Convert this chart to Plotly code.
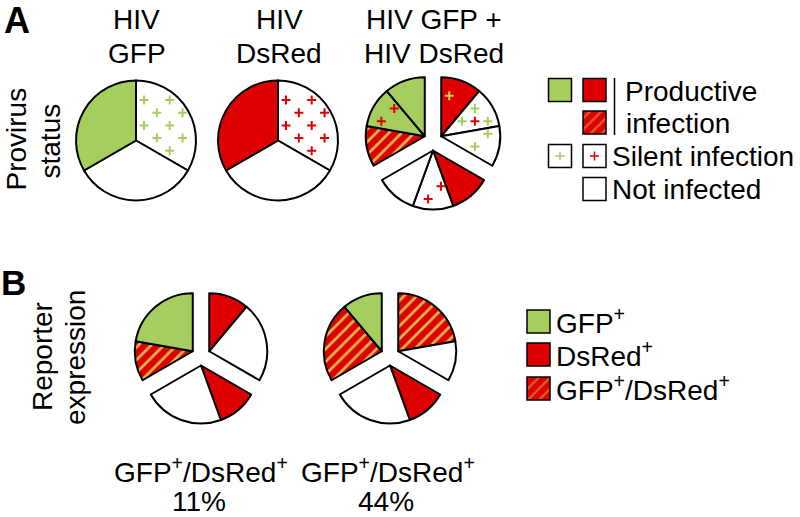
import math
import plotly.graph_objects as go

W, H = 800, 517
FONT = "Liberation Sans, Arial, sans-serif"
GREEN = "#a6ce5e"
RED = "#de0000"
STRIPE = "#e2b850"
PLUS_ON_RED = "#c8cf58"

# ---------------- data ----------------
# Each pie is split in three thirds (starting at 0°, 120°, 240° clockwise from 12 o'clock).
# Values are in ninths of the whole pie; kinds give the slice category.
a_titles = [["HIV", "GFP"], ["HIV", "DsRed"], ["HIV GFP +", "HIV DsRed"]]

a1_values = [[3], [3], [3]]
a1_kinds = [["gfp_silent"], ["none"], ["gfp"]]

a2_values = [[3], [3], [3]]
a2_kinds = [["red_silent"], ["none"], ["red"]]

a3_values = [[1, 1, 1], [1, 1, 1], [1, 1, 1]]
a3_kinds = [["red_gfp_silent", "mixed_silent", "gfp_silent"],
            ["red", "red_silent", "none"],
            ["dual", "gfp_red_silent", "gfp"]]

b1_values = [[1, 2], [1, 2], [1, 2]]
b1_kinds = [["red", "none"], ["red", "none"], ["dual", "gfp"]]

b2_values = [[2, 1], [1, 2], [2, 1]]
b2_kinds = [["dual", "none"], ["red", "none"], ["dual", "gfp"]]

b_label = "GFP<sup>+</sup>/DsRed<sup>+</sup>"
b_percent = [11, 44]

legend_a_labels = ["Productive", "infection", "Silent infection", "Not infected"]
legend_b_labels = ["GFP<sup>+</sup>", "DsRed<sup>+</sup>", "GFP<sup>+</sup>/DsRed<sup>+</sup>"]

# ---------------- styles / layout ----------------
KIND_FILL = {"gfp": GREEN, "red": RED, "dual": RED, "none": "white",
             "gfp_silent": "white", "red_silent": "white", "mixed_silent": "white",
             "gfp_red_silent": GREEN, "red_gfp_silent": RED}
KIND_PLUS = {"gfp_silent": [GREEN], "red_silent": [RED], "mixed_silent": [RED, GREEN],
             "gfp_red_silent": [RED], "red_gfp_silent": [PLUS_ON_RED]}

PIES = [
    dict(values=a1_values, kinds=a1_kinds, cx=136, cy=140.5, r=60, explode=0),
    dict(values=a2_values, kinds=a2_kinds, cx=278, cy=140.5, r=60, explode=0),
    dict(values=a3_values, kinds=a3_kinds, cx=433, cy=141, r=59, explode=9.5),
    dict(values=b1_values, kinds=b1_kinds, cx=201, cy=356, r=58, explode=9.5),
    dict(values=b2_values, kinds=b2_kinds, cx=390, cy=356, r=58, explode=9.5),
]
THIRD_START = [0, 120, 240]

fig = go.Figure()
shapes = []
annotations = []


def plus_points(cx, cy, r, a0, a1, dense=False):
    """texture lattice of '+' marks inside a wedge"""
    pts = []
    gx, gy = cx + 8, cy - 40.5
    step = 12.85 if dense else 25.7
    for j in range(-10, 11):
        y = gy + j * 12.7
        for i in range(-16, 17):
            x = gx + i * step + (0 if dense else (j % 2) * 12.85)
            dx, dy = x - cx, y - cy
            d = math.hypot(dx, dy)
            if d > r - 5.5 or d < 6:
                continue
            th = math.degrees(math.atan2(dx, -dy)) % 360
            if not (a0 <= th <= a1):
                continue
            if d * math.sin(math.radians(th - a0)) < 4.5 or d * math.sin(math.radians(a1 - th)) < 4.5:
                continue
            pts.append((x, y, i + j))
    return pts


def plus_path(pts, h=4.5):
    return "".join(f"M{x - h},{y}H{x + h}M{x},{y - h}V{y + h}" for x, y in pts)


for pie in PIES:
    for t, start in enumerate(THIRD_START):
        vals = pie["values"][t]
        kinds = pie["kinds"][t]
        mid = math.radians(start + 60)
        cx = pie["cx"] + pie["explode"] * math.sin(mid)
        cy = pie["cy"] - pie["explode"] * math.cos(mid)
        r = pie["r"]
        values = list(vals) + [2 * sum(vals)]
        colors = [KIND_FILL[k] for k in kinds] + ["rgba(0,0,0,0)"]
        pshape = ["/" if k == "dual" else "" for k in kinds] + [""]
        lw = [2] * len(vals) + [0]
        fig.add_trace(go.Pie(
            values=values, sort=False, direction="clockwise", rotation=start,
            marker=dict(colors=colors, line=dict(color="black", width=lw),
                        pattern=dict(shape=pshape, fgcolor=STRIPE, bgcolor=colors,
                                     size=9, solidity=0.3)),
            textinfo="none", hoverinfo="skip", showlegend=False,
            domain=dict(x=[(cx - r) / W, (cx + r) / W],
                        y=[1 - (cy + r) / H, 1 - (cy - r) / H])))
        # silent-infection "+" marks
        unit = 120 / sum(vals)
        a = start
        for v, k in zip(vals, kinds):
            a_end = a + v * unit
            if k in KIND_PLUS:
                cols = KIND_PLUS[k]
                pts = plus_points(cx, cy, r, a, a_end, dense=len(cols) > 1)
                for ci, col in enumerate(cols):
                    sub = [(x, y) for x, y, p in pts if p % len(cols) == ci]
                    if sub:
                        shapes.append(dict(type="path", xref="x", yref="y", layer="above",
                                           path=plus_path(sub), line=dict(color=col, width=2)))
            a = a_end


def text(x, y, s, size=28, xanchor="center", angle=0, bold=False):
    annotations.append(dict(x=x, y=y, xref="x", yref="y", text=(f"<b>{s}</b>" if bold else s),
                            showarrow=False, xanchor=xanchor, yanchor="middle",
                            textangle=angle, borderpad=0,
                            font=dict(family=FONT, size=size, color="black")))


def square(cx, cy, kind, s=23):
    x0, x1, y0, y1 = cx - s / 2, cx + s / 2, cy - s / 2, cy + s / 2
    if kind == "dual":
        fig.add_trace(go.Scatter(x=[x0, x1, x1, x0, x0], y=[y0, y0, y1, y1, y0],
                                 mode="lines", fill="toself", fillcolor=RED,
                                 fillpattern=dict(shape="/", fgcolor=STRIPE, bgcolor=RED,
                                                  size=8, solidity=0.3),
                                 line=dict(width=0), hoverinfo="skip", showlegend=False))
        shapes.append(dict(type="rect", xref="x", yref="y", x0=x0, x1=x1, y0=y0, y1=y1,
                           layer="above", line=dict(color="black", width=1.5)))
    else:
        shapes.append(dict(type="rect", xref="x", yref="y", x0=x0, x1=x1, y0=y0, y1=y1,
                           layer="above", fillcolor=KIND_FILL[kind],
                           line=dict(color="black", width=1.5)))
        if kind in KIND_PLUS:
            shapes.append(dict(type="path", xref="x", yref="y", layer="above",
                               path=plus_path([(cx, cy)], 4.5),
                               line=dict(color=KIND_PLUS[kind][0], width=1.5)))


# panel letters
text(17, 20, "A", size=36, bold=True)
text(13, 282, "B", size=35, bold=True)

# column titles of panel A
for (l1, l2), x in zip(a_titles, [136.5, 279, 434]):
    text(x, 19.5, l1)
    text(x, 53, l2)

# row titles
text(15.5, 139, "Provirus", angle=-90)
text(49.5, 141, "status", angle=-90)
text(42, 357, "Reporter", angle=-90)
text(75, 358, "expression", angle=-90)

# bottom labels of panel B
for x, p in zip([201, 387.5], b_percent):
    text(x, 470, b_label)
    text(x - 2, 501.5, f"{p}%")

# legend A
square(560, 90, "gfp")
square(594.5, 90, "red")
square(594.5, 122.5, "dual")
square(560, 156, "gfp_silent")
square(594.5, 156, "red_silent")
square(594.5, 189, "none")
shapes.append(dict(type="line", xref="x", yref="y", x0=614.5, x1=614.5, y0=78, y1=135,
                   layer="above", line=dict(color="black", width=1.5)))
text(624, 91, legend_a_labels[0], xanchor="left")
text(625, 123, legend_a_labels[1], xanchor="left")
text(611, 156, legend_a_labels[2], xanchor="left")
text(611, 189, legend_a_labels[3], xanchor="left")

# legend B
for y, k, lab in zip([321.5, 354.5, 388.5], ["gfp", "red", "dual"], legend_b_labels):
    square(538.5, y, k)
    text(555, y - 1, lab, xanchor="left")

fig.update_layout(
    width=W, height=H, margin=dict(l=0, r=0, t=0, b=0),
    paper_bgcolor="white", plot_bgcolor="white",
    xaxis=dict(range=[0, W], visible=False, fixedrange=True),
    yaxis=dict(range=[H, 0], visible=False, fixedrange=True),
    shapes=shapes, annotations=annotations, showlegend=False,
)
fig.write_html("out.html", config={"displayModeBar": False},
               post_script="document.body.style.margin='0';document.body.style.overflow='hidden';")
